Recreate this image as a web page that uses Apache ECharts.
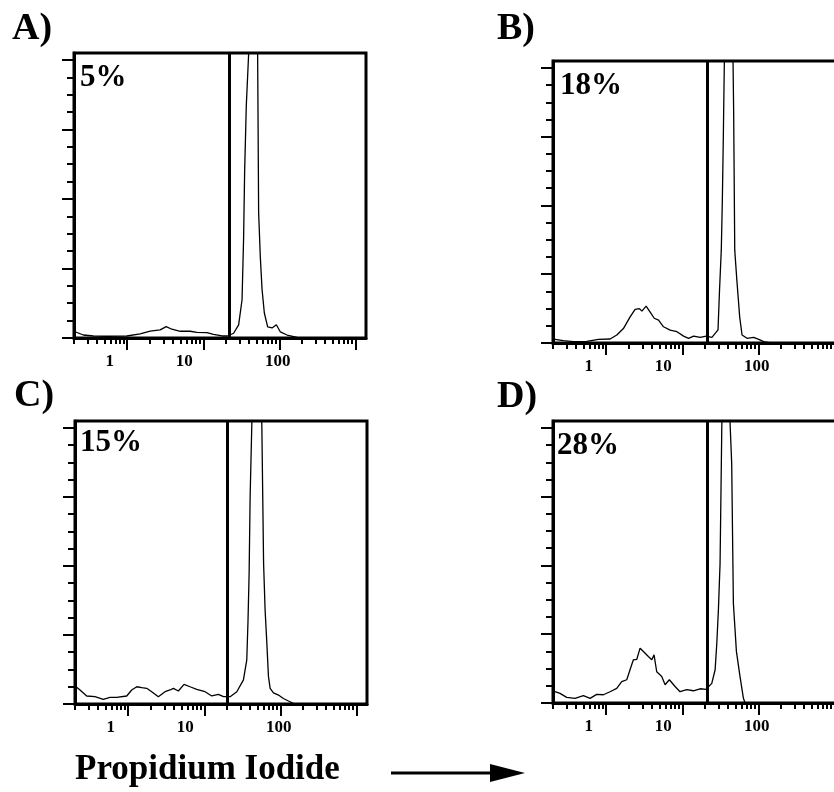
<!DOCTYPE html>
<html><head><meta charset="utf-8">
<script src="https://cdn.jsdelivr.net/npm/echarts@6/dist/echarts.min.js"></script>
<style>html,body{margin:0;padding:0;background:#fff}#c{width:834px;height:792px}</style>
</head><body><div id="c"></div>
<script>
// ---- text ----
const panelLetters = ['A)', 'B)', 'C)', 'D)'];
const percentLabels = ['5%', '18%', '15%', '28%'];
const xTitle = 'Propidium Iodide';
// ---- axis ticks (x in log10 units: 0 -> 1, 1 -> 10, ...) ----
const majorTickValues = [0, 1, 2, 3];
const tickLabelValues = [-0.23, 0.75, 1.98];
const tickLabelTexts = ['1', '10', '100'];
const yMajorTicks = [0, 1, 2, 3, 4];
const yMinorTicks = [0.25,0.5,0.75,1.25,1.5,1.75,2.25,2.5,2.75,3.25,3.5,3.75];
// ---- gates (log10 units) ----
const gateX = [1.339, 1.326, 1.30, 1.326];
// ---- histograms [log10 intensity, counts in major-tick units] ----
const histA = [[-0.687,0.09],[-0.577,0.043],[-0.446,0.029],[-0.269,0.025],[-0.006,0.029],[0.17,0.058],[0.301,0.10],[0.433,0.116],[0.512,0.164],[0.587,0.126],[0.697,0.097],[0.828,0.097],[0.916,0.082],[1.048,0.077],[1.135,0.053],[1.246,0.029],[1.32,0.029],[1.399,0.068],[1.465,0.188],[1.51,0.55],[1.53,1.42],[1.544,2.39],[1.566,3.35],[1.596,4.07],[1.645,6],[1.715,4.07],[1.728,1.81],[1.75,1.17],[1.773,0.70],[1.803,0.36],[1.847,0.16],[1.905,0.145],[1.961,0.19],[2.014,0.087],[2.102,0.043],[2.234,0.01],[3.14,0]];
const histB = [[-0.674,0.054],[-0.564,0.034],[-0.432,0.02],[-0.256,0.024],[-0.103,0.053],[0.051,0.058],[0.139,0.116],[0.226,0.21],[0.314,0.38],[0.38,0.49],[0.437,0.50],[0.469,0.464],[0.525,0.536],[0.578,0.45],[0.631,0.36],[0.688,0.333],[0.753,0.236],[0.841,0.188],[0.93,0.164],[1.017,0.10],[1.083,0.068],[1.149,0.10],[1.237,0.082],[1.316,0.10],[1.39,0.083],[1.47,0.19],[1.49,0.77],[1.513,1.35],[1.527,2.07],[1.54,3.0],[1.553,4.06],[1.606,6],[1.668,4.06],[1.676,3.33],[1.69,1.35],[1.718,0.91],[1.755,0.38],[1.786,0.116],[1.852,0.068],[1.939,0.083],[2.005,0.054],[2.071,0.02],[2.16,0],[3.14,0]];
const histC = [[-0.687,0.25],[-0.634,0.203],[-0.546,0.116],[-0.437,0.106],[-0.328,0.068],[-0.24,0.097],[-0.151,0.097],[-0.02,0.116],[0.046,0.203],[0.112,0.25],[0.178,0.236],[0.243,0.227],[0.309,0.178],[0.396,0.106],[0.484,0.178],[0.55,0.203],[0.594,0.227],[0.659,0.188],[0.734,0.285],[0.813,0.25],[0.901,0.213],[1.01,0.178],[1.099,0.116],[1.186,0.14],[1.252,0.106],[1.34,0.106],[1.428,0.178],[1.515,0.35],[1.559,0.64],[1.575,1.2],[1.59,1.9],[1.603,3.0],[1.625,4.04],[1.69,6],[1.757,4.04],[1.78,2.04],[1.8,1.36],[1.822,0.9],[1.844,0.40],[1.866,0.227],[1.91,0.16],[1.976,0.13],[2.04,0.08],[2.107,0.043],[2.17,0.01],[3.14,0]];
const histD = [[-0.674,0.164],[-0.608,0.14],[-0.52,0.082],[-0.41,0.068],[-0.30,0.106],[-0.213,0.068],[-0.125,0.126],[-0.038,0.12],[0.05,0.164],[0.138,0.213],[0.204,0.31],[0.27,0.338],[0.313,0.483],[0.357,0.628],[0.401,0.633],[0.445,0.797],[0.489,0.748],[0.554,0.676],[0.599,0.628],[0.629,0.70],[0.664,0.454],[0.73,0.386],[0.774,0.266],[0.83,0.338],[0.905,0.24],[0.971,0.164],[1.059,0.193],[1.146,0.178],[1.234,0.207],[1.313,0.198],[1.388,0.285],[1.432,0.483],[1.454,0.865],[1.475,1.35],[1.497,2.03],[1.52,4.03],[1.576,6],[1.63,4.03],[1.65,3.48],[1.672,1.45],[1.712,0.75],[1.76,0.38],[1.804,0.068],[1.826,0],[3.14,0]];
const hists = [histA, histB, histC, histD];

// ---- layout ----
const FONT = '"Liberation Serif","Times New Roman",serif';
const xMin = -0.7, xMax = 3.14, yMax = 4.1;
const grids = [
  {left: 74, top: 53, width: 292, height: 285},
  {left: 553, top: 61, width: 292, height: 282},
  {left: 75, top: 421, width: 292, height: 283},
  {left: 553, top: 421, width: 292, height: 282}
];
const letterPos = [[12, 29], [497, 29], [14, 396], [497, 397]];
const pctPos = [[80, 78], [560, 86], [80, 443], [557, 446]];

const minorX = [];
for (let d = -1; d <= 3; d++) for (let k = 2; k <= 9; k++) {
  const v = d + Math.log10(k);
  if (v > xMin && v < xMax) minorX.push(v);
}

const option = {
  animation: false,
  backgroundColor: '#fff',
  grid: grids.map(g => Object.assign({show: true, borderColor: '#000', borderWidth: 3, backgroundColor: 'transparent',
    containLabel: false, outerBoundsMode: 'none'}, g)),
  xAxis: [], yAxis: [], series: [], graphic: []
};

grids.forEach((g, i) => {
  option.xAxis.push({
    gridIndex: i, type: 'value', position: 'bottom', min: xMin, max: xMax,
    axisLine: {show: true, onZero: false, lineStyle: {color: '#000', width: 3}},
    axisTick: {show: true, customValues: majorTickValues, length: 12, lineStyle: {color: '#000', width: 2}},
    axisLabel: {show: true, customValues: tickLabelValues, margin: 15, color: '#000',
      fontFamily: FONT, fontWeight: 'bold', fontSize: 17,
      formatter: v => { const k = tickLabelValues.findIndex(t => Math.abs(t - v) < 1e-6); return k >= 0 ? tickLabelTexts[k] : ''; }},
    splitLine: {show: false}
  });
  option.xAxis.push({
    gridIndex: i, type: 'value', position: 'bottom', offset: 0, min: xMin, max: xMax,
    axisLine: {show: false, onZero: false},
    axisTick: {show: true, customValues: minorX, length: 6, lineStyle: {color: '#000', width: 2}},
    axisLabel: {show: false}, splitLine: {show: false}
  });
  option.yAxis.push({
    gridIndex: i, type: 'value', position: 'left', min: 0, max: yMax,
    axisLine: {show: true, onZero: false, lineStyle: {color: '#000', width: 3}},
    axisTick: {show: true, customValues: yMajorTicks, length: 12, lineStyle: {color: '#000', width: 2}},
    axisLabel: {show: false}, splitLine: {show: false}
  });
  option.yAxis.push({
    gridIndex: i, type: 'value', position: 'left', offset: 0, min: 0, max: yMax,
    axisLine: {show: false, onZero: false},
    axisTick: {show: true, customValues: yMinorTicks, length: 7, lineStyle: {color: '#000', width: 2}},
    axisLabel: {show: false}, splitLine: {show: false}
  });
  option.series.push({
    type: 'line', xAxisIndex: 2 * i, yAxisIndex: 2 * i, data: hists[i],
    showSymbol: false, symbol: 'none', clip: true,
    lineStyle: {color: '#000', width: 1.3},
    markLine: {silent: true, symbol: ['none', 'none'], label: {show: false},
      lineStyle: {color: '#000', width: 3, type: 'solid'},
      emphasis: {disabled: true},
      data: [{xAxis: gateX[i]}]}
  });
  option.graphic.push({type: 'text', x: letterPos[i][0], y: letterPos[i][1],
    style: {text: panelLetters[i], font: 'bold 38px ' + FONT, fill: '#000', textAlign: 'left', textVerticalAlign: 'middle', align: 'left', verticalAlign: 'middle'}});
  option.graphic.push({type: 'text', x: pctPos[i][0], y: pctPos[i][1],
    style: {text: percentLabels[i], font: 'bold 31px ' + FONT, fill: '#000', textAlign: 'left', textVerticalAlign: 'middle', align: 'left', verticalAlign: 'middle'}});
});

option.graphic.push({type: 'text', x: 75, y: 770,
  style: {text: xTitle, font: 'bold 35px ' + FONT, fill: '#000', textAlign: 'left', textVerticalAlign: 'middle', align: 'left', verticalAlign: 'middle'}});
option.graphic.push({type: 'line', shape: {x1: 391, y1: 773, x2: 495, y2: 773}, style: {stroke: '#000', lineWidth: 3}});
option.graphic.push({type: 'polygon', shape: {points: [[490, 764], [525, 773], [490, 782]]}, style: {fill: '#000'}});

const chart = echarts.init(document.getElementById('c'), null, {renderer: 'canvas'});
chart.setOption(option);
</script>
</body></html>
